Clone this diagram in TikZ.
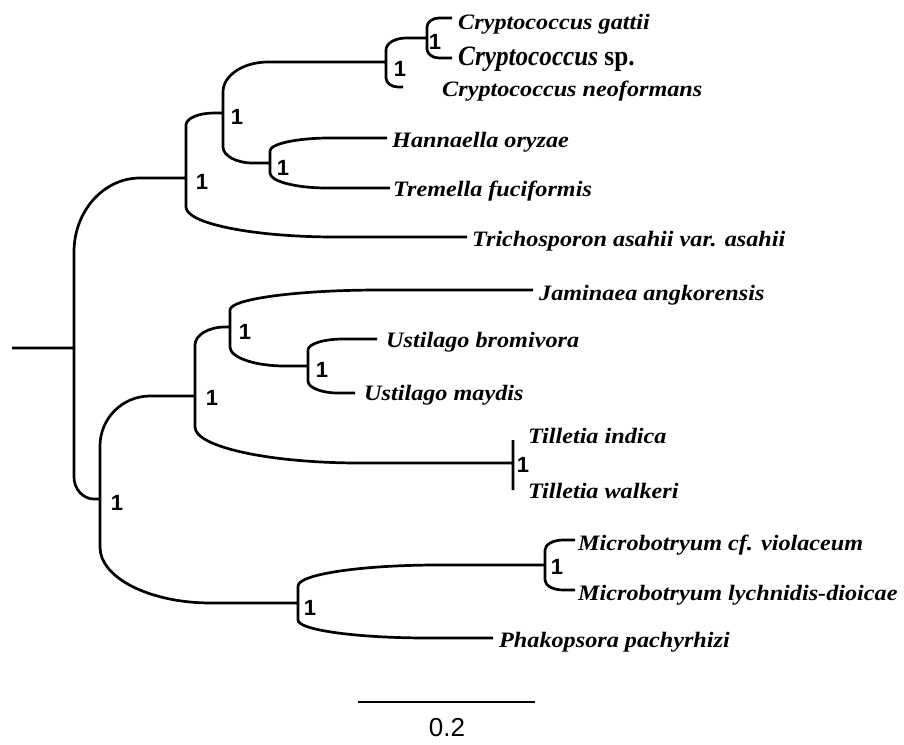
\documentclass[tikz,border=0pt]{standalone}
\usepackage{fontspec}
\setmainfont{Liberation Serif}
\newfontfamily\labfont[FakeStretch=1.1]{Liberation Serif}
\newfontfamily\bigfont[FakeStretch=0.9]{Liberation Serif}
\newfontfamily\numfont{Liberation Sans}
\usetikzlibrary{calc}
\begin{document}
\begin{tikzpicture}[x=1pt,y=-1pt,
  br/.style={line width=2.7pt},
  armup/.style 2 args={to path={let \p1=(\tikztostart),\p2=(\tikztotarget) in
     (\p1) -- (\x1,{\y2-#2pt}) .. controls (\x1,{\y2-0.448*#2pt}) and ({\x1+0.448*#1pt},\y2) .. ({\x1+#1pt},\y2) -- (\p2)}},
  armdn/.style 2 args={to path={let \p1=(\tikztostart),\p2=(\tikztotarget) in
     (\p1) -- (\x1,{\y2+#2pt}) .. controls (\x1,{\y2+0.448*#2pt}) and ({\x1+0.448*#1pt},\y2) .. ({\x1+#1pt},\y2) -- (\p2)}},
  taxon/.style={anchor=base west, inner sep=0pt, font=\labfont\fontsize{22}{24}\bfseries\itshape\selectfont},
  bigtaxon/.style={anchor=base west, inner sep=0pt, font=\bigfont\fontsize{28}{32}\bfseries\itshape\selectfont},
  supp/.style={inner sep=0pt, font=\numfont\fontsize{22}{24}\bfseries\selectfont},
  scalelab/.style={inner sep=0pt, font=\numfont\fontsize{26}{28}\selectfont},
]
\useasboundingbox (0,0) rectangle (904,744);

% internal nodes
\coordinate (r0) at (12,348);
\coordinate (R) at (74,348);
\coordinate (A) at (186,178);
\coordinate (B) at (223,113);
\coordinate (C) at (386,62);
\coordinate (D) at (427,38);
\coordinate (E) at (270,163);
\coordinate (F) at (100,499);
\coordinate (G) at (195,396);
\coordinate (I) at (230,327);
\coordinate (K) at (308,366);
\coordinate (J) at (513,463);
\coordinate (H) at (298,603);
\coordinate (L) at (545,565);

% tips
\coordinate (t1) at (452,18);
\coordinate (t2) at (452,58);
\coordinate (t3) at (403,87);
\coordinate (t4) at (387,138);
\coordinate (t5) at (390,188);
\coordinate (t6) at (467,237);
\coordinate (t7) at (533,290);
\coordinate (t8) at (377,339);
\coordinate (t9) at (355,393);
\coordinate (t10) at (513,440);
\coordinate (t11) at (513,490);
\coordinate (t12) at (575,540);
\coordinate (t13) at (575,590);
\coordinate (t14) at (493,638);

% branches
\draw[br] (r0) -- (R)
  (R) to[armup={66}{74}] (A)
  (R) to[armdn={20}{22}] (F)
  (A) to[armup={28}{12}] (B)
  (A) to[armdn={150}{30}] (t6)
  (B) to[armup={45}{30}] (C)
  (B) to[armdn={30}{16}] (E)
  (C) to[armup={20}{12}] (D)
  (C) to[armdn={12}{9}] (t3)
  (D) to[armup={12}{9}] (t1)
  (D) to[armdn={12}{9}] (t2)
  (E) to[armup={60}{13}] (t4)
  (E) to[armdn={57}{15}] (t5)
  (F) to[armup={50}{50}] (G)
  (F) to[armdn={111}{56}] (H)
  (G) to[armup={30}{18}] (I)
  (G) to[armdn={165}{36}] (J)
  (I) to[armup={150}{20}] (t7)
  (I) to[armdn={55}{19}] (K)
  (K) to[armup={35}{11}] (t8)
  (K) to[armdn={30}{12}] (t9)
  (J) -- (t10)
  (J) -- (t11)
  (H) to[armup={140}{21}] (L)
  (H) to[armdn={130}{18}] (t14)
  (L) to[armup={18}{10}] (t12)
  (L) to[armdn={18}{10}] (t13);

% taxa
\node[taxon] (l1) at (458,29) {Cryptococcus gattii};
\node[bigtaxon] (l2) at (458,65) {Cryptococcus \upshape sp.};
\node[taxon] (l3) at (442,96) {Cryptococcus neoformans};
\node[taxon] (l4) at (392,147) {Hannaella oryzae};
\node[taxon] (l5) at (393,196) {Tremella fuciformis};
\node[taxon] (l6) at (472,246) {Trichosporon asahii var. asahii};
\node[taxon] (l7) at (539,300) {Jaminaea angkorensis};
\node[taxon] (l8) at (386,347) {Ustilago bromivora};
\node[taxon] (l9) at (364,400) {Ustilago maydis};
\node[taxon] (l10) at (528,443) {Tilletia indica};
\node[taxon] (l11) at (528,498) {Tilletia walkeri};
\node[taxon] (l12) at (578,550) {Microbotryum cf. violaceum};
\node[taxon] (l13) at (578,600) {Microbotryum lychnidis-dioicae};
\node[taxon] (l14) at (499,647) {Phakopsora pachyrhizi};

% support values
\node[supp] (nD) at (435,42) {1};
\node[supp] (nC) at (400,69) {1};
\node[supp] (nB) at (237,117) {1};
\node[supp] (nA) at (202,182) {1};
\node[supp] (nE) at (283,168) {1};
\node[supp] (nF) at (117,503) {1};
\node[supp] (nG) at (212,398) {1};
\node[supp] (nI) at (245,332) {1};
\node[supp] (nK) at (322,370) {1};
\node[supp] (nJ) at (523,465) {1};
\node[supp] (nH) at (310,608) {1};
\node[supp] (nL) at (557,567) {1};

% scale bar
\coordinate (s1) at (358,702);
\coordinate (s2) at (535,702);
\draw[br] (s1) -- (s2);
\node[scalelab] (sl) at (447,728) {0.2};
\end{tikzpicture}
\end{document}
